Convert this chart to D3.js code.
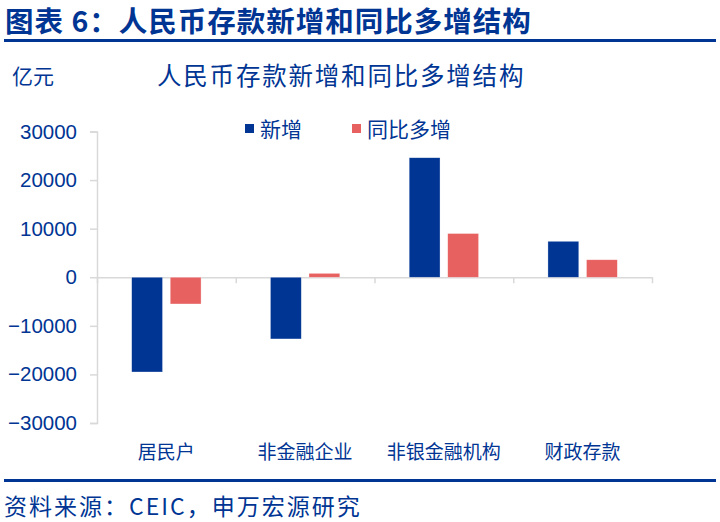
<!DOCTYPE html>
<html>

<head>
    <meta charset="utf-8">
    <script src="https://d3js.org/d3.v7.min.js"></script>
    <style>
        body {
            margin: 0;
            background: #fff;
        }

        text {
            font-family: "Noto Sans CJK SC", "Liberation Sans", sans-serif;
        }

        .y.axis text {
            font-family: "Liberation Sans", Arial, sans-serif;
            font-size: 20.5px;
            fill: #003594;
        }

        .axis path,
        .axis line {
            stroke: #d9d9d9;
            stroke-width: 1.5px;
        }
    </style>
</head>

<body>
    <script>
        // data (亿元)
        let categories = ["居民户", "非金融企业", "非银金融机构", "财政存款"];
        let series = ["新增", "同比多增"];
        let xinzeng = [-19500, -12700, 24600, 7400];
        let tongbi = [-5500, 800, 9000, 3600];
        let y_ticks = [-30000, -20000, -10000, 0, 10000, 20000, 30000];

        let colors = ["#003594", "#e86161"];
        let blue = "#003594";

        let width = 720,
            height = 522;

        let svg = d3.select("body").append("svg")
            .attr("width", width)
            .attr("height", height);

        // header
        svg.append("text")
            .text("图表 6：人民币存款新增和同比多增结构")
            .attr("x", 5)
            .attr("y", 32)
            .style("font-size", "28.5px")
            .style("font-weight", "bold")
            .style("letter-spacing", "1px")
            .style("fill", blue);

        svg.append("rect")
            .attr("x", 4).attr("y", 39)
            .attr("width", 712).attr("height", 3)
            .style("fill", blue);

        svg.append("text")
            .text("亿元")
            .attr("x", 12)
            .attr("y", 84)
            .style("font-size", "21px")
            .style("fill", blue);

        svg.append("text")
            .text("人民币存款新增和同比多增结构")
            .attr("x", 157)
            .attr("y", 85)
            .style("font-size", "24.5px")
            .style("letter-spacing", "1.8px")
            .style("fill", blue);

        // scales
        let y_scale = d3.scaleLinear()
            .domain([-30000, 30000])
            .range([423, 131.5]);

        let x_scale = d3.scaleBand()
            .domain(categories)
            .range([97, 652])
            .padding(0);

        let x_inner = d3.scaleBand()
            .domain(series)
            .range([0, x_scale.bandwidth()])
            .paddingInner(0.2)
            .paddingOuter(0.9);

        // y axis
        let y_axis = d3.axisLeft(y_scale)
            .tickValues(y_ticks)
            .tickSize(7)
            .tickSizeOuter(7)
            .tickPadding(13)
            .tickFormat(d3.format("d"));

        svg.append("g")
            .attr("class", "y axis")
            .attr("transform", "translate(97,0)")
            .call(y_axis);

        // x axis at zero with boundary ticks
        let boundaries = categories.map(c => x_scale(c)).concat([x_scale.range()[1]]);
        let x_lin = d3.scaleLinear().domain([97, 652]).range([97, 652]);
        let x_axis = d3.axisBottom(x_lin)
            .tickValues(boundaries)
            .tickSize(6)
            .tickSizeOuter(0)
            .tickFormat("");

        svg.append("g")
            .attr("class", "x axis")
            .attr("transform", "translate(0," + y_scale(0) + ")")
            .call(x_axis);

        // bars
        let table = categories.map((c, i) => ({
            cat: c,
            vals: [{ s: series[0], v: xinzeng[i] }, { s: series[1], v: tongbi[i] }]
        }));

        let groups = svg.selectAll("g.group")
            .data(table)
            .join("g")
            .attr("class", "group")
            .attr("transform", d => "translate(" + x_scale(d.cat) + ",0)");

        groups.selectAll("rect")
            .data(d => d.vals)
            .join("rect")
            .attr("x", d => x_inner(d.s))
            .attr("y", d => y_scale(Math.max(0, d.v)))
            .attr("width", x_inner.bandwidth())
            .attr("height", d => Math.abs(y_scale(d.v) - y_scale(0)))
            .style("fill", (d, i) => colors[i])
            .style("stroke", "#ffffff")
            .style("stroke-opacity", 0.5)
            .style("stroke-width", 0.6);

        // category labels
        svg.selectAll("text.cat")
            .data(categories)
            .join("text")
            .attr("class", "cat")
            .text(d => d)
            .attr("x", d => x_scale(d) + x_scale.bandwidth() / 2)
            .attr("y", 459)
            .style("text-anchor", "middle")
            .style("font-size", "19px")
            .style("fill", blue);

        // legend
        let legend_x = [245, 352];
        let legend = svg.selectAll("g.legend")
            .data(series)
            .join("g")
            .attr("class", "legend")
            .attr("transform", (d, i) => "translate(" + legend_x[i] + ",124)");

        legend.append("rect")
            .attr("width", 9)
            .attr("height", 9)
            .style("fill", (d, i) => colors[i]);

        legend.append("text")
            .text(d => d)
            .attr("x", 15)
            .attr("y", 13)
            .style("font-size", "21px")
            .style("fill", blue);

        // footer
        svg.append("rect")
            .attr("x", 4).attr("y", 479)
            .attr("width", 712).attr("height", 3)
            .style("fill", blue);

        svg.append("text")
            .text("资料来源：CEIC，申万宏源研究")
            .attr("x", 4)
            .attr("y", 515)
            .style("font-size", "23px")
            .style("letter-spacing", "2px")
            .style("fill", blue);
    </script>
</body>

</html>
